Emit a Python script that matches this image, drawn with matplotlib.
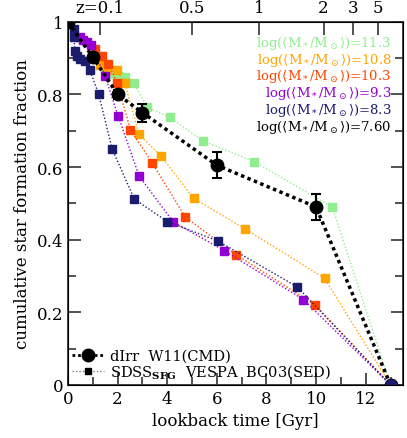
import matplotlib
matplotlib.use("Agg")
import matplotlib.pyplot as plt
from matplotlib.ticker import MultipleLocator

plt.rcParams['font.family'] = ['DejaVu Serif', 'DejaVu Sans']
plt.rcParams['mathtext.fontset'] = 'dejavuserif'

# dIrr W11 (CMD)
dirr_t = [0, 1, 2, 3, 6, 10, 13]
dirr_f = [1.0, 0.903, 0.80, 0.75, 0.605, 0.49, 0.0]
dirr_err = [0, 0, 0.012, 0.025, 0.036, 0.036, 0]

# SDSS SFG VESPA BC03 (SED), by mass bin
green_t = [1.5, 1.75, 2.0, 2.3, 2.65, 3.2, 4.1, 5.45, 7.5, 10.65, 13]
green_f = [0.87, 0.857, 0.85, 0.847, 0.832, 0.765, 0.737, 0.672, 0.615, 0.49, 0.0]

orange_t = [1.3, 1.57, 1.96, 2.29, 2.86, 3.74, 5.06, 7.13, 10.34, 13]
orange_f = [0.88, 0.866, 0.868, 0.831, 0.69, 0.631, 0.514, 0.43, 0.294, 0.0]

red_t = [1.09, 1.36, 1.63, 1.98, 2.52, 3.39, 4.73, 6.79, 9.97, 13]
red_f = [0.926, 0.907, 0.884, 0.832, 0.702, 0.612, 0.462, 0.358, 0.22, 0.0]

purple_t = [0.49, 0.62, 0.76, 0.92, 1.49, 2.02, 2.87, 4.24, 6.29, 9.49, 13]
purple_f = [0.958, 0.949, 0.944, 0.935, 0.852, 0.741, 0.575, 0.449, 0.37, 0.235, 0.0]

navy_t = [0.24, 0.24, 0.28, 0.35, 0.49, 0.69, 0.89, 1.24, 1.78, 2.67, 4.0, 6.05, 9.24, 13]
navy_f = [0.98, 0.958, 0.921, 0.907, 0.898, 0.893, 0.866, 0.80, 0.65, 0.512, 0.45, 0.396, 0.27, 0.0]

mass_labels = ["11.3", "10.8", "10.3", "9.3", "8.3", "7.60"]
mass_colors = ["#90ee90", "#ffa500", "#ff4500", "#9400d3", "#1c1c6e", "black"]

z_labels = ["z=0.1", "0.5", "1", "2", "3", "5"]
z_lookback = [1.3, 5.0, 7.7, 10.3, 11.5, 12.5]

fig = plt.figure(figsize=(4.07, 4.39), dpi=100)
ax = fig.add_axes([0.167, 0.121, 0.823, 0.827])

series = [(green_t, green_f), (orange_t, orange_f), (red_t, red_f),
          (purple_t, purple_f), (navy_t, navy_f)]
for (t, f), c in zip(series, mass_colors[:5]):
    ax.plot(t, f, ls=(0, (1, 1.5)), lw=1.0, color=c, marker='s', ms=5.5,
            mec=c, mfc=c, zorder=3)

ax.errorbar(dirr_t, dirr_f, yerr=dirr_err, fmt='o', color='black', ms=9,
            ecolor='black', elinewidth=1.5, capsize=3.5, capthick=1.5, zorder=5)
ax.plot(dirr_t, dirr_f, ls=(0, (1, 1)), lw=2.5, color='black', zorder=4)
ax.plot(dirr_t[-1], dirr_f[-1], 'o', ms=8, color=mass_colors[4], zorder=6)

# legend proxies
h1, = ax.plot([], [], ls=(0, (1, 1)), lw=2, color='black', marker='o', ms=9)
h2, = ax.plot([], [], ls=(0, (1, 1.5)), lw=1, color='gray', marker='s', ms=5,
              mfc='black', mec='black')
ax.legend([h1, h2], ["dIrr  W11(CMD)", "SDSS$_{\\mathbf{SFG}}$  VESPA  BC03(SED)"],
          loc='lower left', bbox_to_anchor=(-0.015, -0.012), frameon=False,
          fontsize=10.5, handlelength=2.2, handletextpad=0.4, labelspacing=0.0,
          borderaxespad=0.2)

for i, (lab, c) in enumerate(zip(mass_labels, mass_colors)):
    ax.text(0.965, 0.943 - i * 0.046,
            'log(\u27e8M$_*$/M$_\\odot$\u27e9)=' + lab,
            transform=ax.transAxes, color=c, fontsize=9.5, ha='right', va='center')

ax.set_xlim(0, 13.5)
ax.set_ylim(0, 1)
ax.xaxis.set_major_locator(MultipleLocator(2))
ax.xaxis.set_minor_locator(MultipleLocator(1))
ax.yaxis.set_major_locator(MultipleLocator(0.2))
ax.yaxis.set_minor_locator(MultipleLocator(0.1))
ax.set_yticks([0, 0.2, 0.4, 0.6, 0.8, 1.0])
ax.set_yticklabels(["0", "0.2", "0.4", "0.6", "0.8", "1"])
ax.tick_params(which='both', direction='in', top=False, right=True, labelsize=12,
               width=1.2, color='#333333')
ax.tick_params(which='major', length=9)
ax.tick_params(which='minor', length=6)
ax.set_xlabel("lookback time [Gyr]", fontsize=12)
ax.set_ylabel("cumulative star formation fraction", fontsize=12)
for s in ax.spines.values():
    s.set_linewidth(1.3)
    s.set_color('#333333')

ax2 = ax.twiny()
ax2.set_xlim(ax.get_xlim())
ax2.set_xticks(z_lookback)
ax2.set_xticklabels(z_labels)
ax2.tick_params(direction='in', length=9, width=1.2, labelsize=12, color='#333333',
                pad=4)
ax2.xaxis.set_minor_locator(plt.NullLocator())

fig.savefig("out.png", dpi=100)
